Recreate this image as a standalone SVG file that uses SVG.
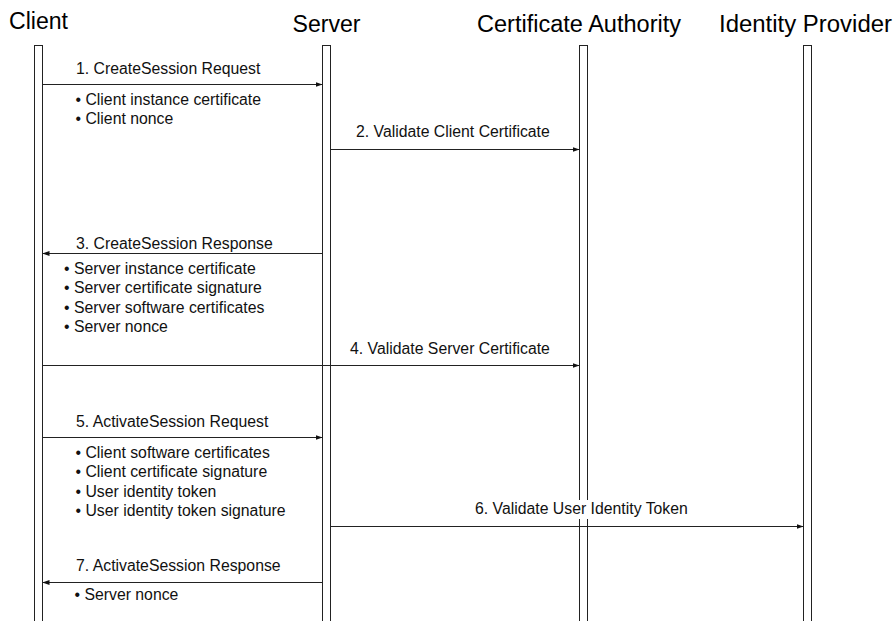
<svg xmlns="http://www.w3.org/2000/svg" width="894" height="621" viewBox="0 0 894 621">
<style>
.title{font-family:"Liberation Sans",Arial,sans-serif;font-size:23.3px;fill:#000}
.lbl{font-family:"Liberation Sans",Arial,sans-serif;font-size:15.8px;fill:#111}
.life{fill:#fff;stroke:#222;stroke-width:1}
.msg{stroke:#222;stroke-width:1;fill:none;marker-end:url(#ah)}
</style>
<defs>
<marker id="ah" markerUnits="userSpaceOnUse" markerWidth="7" markerHeight="5" refX="7" refY="2.5" orient="auto">
<path d="M0,0 L7,2.5 L0,5 z" fill="#111"/>
</marker>
</defs>
<rect width="894" height="621" fill="#fff"/>
<g id="client">
<text class="title" x="9" y="29" textLength="59" lengthAdjust="spacingAndGlyphs">Client</text>
<rect class="life" x="34.5" y="45.5" width="8" height="600"/>
</g>
<g id="server">
<text class="title" x="292.5" y="32" textLength="68" lengthAdjust="spacingAndGlyphs">Server</text>
<rect class="life" x="322.5" y="45.5" width="8" height="600"/>
</g>
<g id="ca">
<text class="title" x="477" y="32" textLength="204" lengthAdjust="spacingAndGlyphs">Certificate Authority</text>
<rect class="life" x="579.5" y="45.5" width="8" height="600"/>
</g>
<g id="idp">
<text class="title" x="719" y="32" textLength="173" lengthAdjust="spacingAndGlyphs">Identity Provider</text>
<rect class="life" x="803.5" y="45.5" width="8" height="600"/>
</g>
<g id="connectors">
<line class="msg" x1="42.5" y1="84.5" x2="322.5" y2="84.5"/>
<text class="lbl" x="76" y="74">1. CreateSession Request</text>
<text class="lbl" x="75.5" y="104.5">• Client instance certificate</text>
<text class="lbl" x="75.5" y="123.5">• Client nonce</text>

<line class="msg" x1="330.5" y1="149.5" x2="579.5" y2="149.5"/>
<text class="lbl" x="356" y="137">2. Validate Client Certificate</text>

<line class="msg" x1="322.5" y1="253.5" x2="42.5" y2="253.5"/>
<text class="lbl" x="76" y="249">3. CreateSession Response</text>
<text class="lbl" x="64" y="274">• Server instance certificate</text>
<text class="lbl" x="64" y="293">• Server certificate signature</text>
<text class="lbl" x="64" y="312.5">• Server software certificates</text>
<text class="lbl" x="64" y="331.5">• Server nonce</text>

<line class="msg" x1="42.5" y1="365.5" x2="579.5" y2="365.5"/>
<text class="lbl" x="350" y="354">4. Validate Server Certificate</text>

<line class="msg" x1="42.5" y1="437.5" x2="322.5" y2="437.5"/>
<text class="lbl" x="76" y="427">5. ActivateSession Request</text>
<text class="lbl" x="75.5" y="458">• Client software certificates</text>
<text class="lbl" x="75.5" y="477.3">• Client certificate signature</text>
<text class="lbl" x="75.5" y="496.7">• User identity token</text>
<text class="lbl" x="75.5" y="516">• User identity token signature</text>

<rect x="474" y="500" width="220" height="19" fill="#fff"/>
<line class="msg" x1="330.5" y1="526.5" x2="803.5" y2="526.5"/>
<text class="lbl" x="475" y="514">6. Validate User Identity Token</text>

<line class="msg" x1="322.5" y1="582.5" x2="42.5" y2="582.5"/>
<text class="lbl" x="76" y="571">7. ActivateSession Response</text>
<text class="lbl" x="74.5" y="600">• Server nonce</text>
</g>
</svg>
